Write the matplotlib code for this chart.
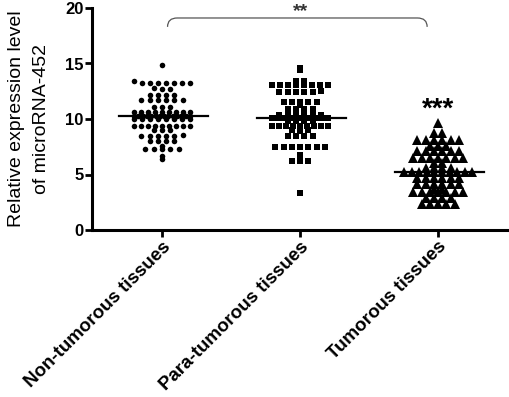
import numpy as np
import matplotlib
matplotlib.use("Agg")
import matplotlib.pyplot as plt
from matplotlib.path import Path
from matplotlib.patches import PathPatch

plt.rcParams['font.family'] = ['Liberation Sans', 'DejaVu Sans']

categories = ["Non-tumorous tissues", "Para-tumorous tissues", "Tumorous tissues"]
yticks = [0, 5, 10, 15, 20]

non_tumorous = [14.9,
    13.4, 13.2, 13.2, 13.2, 13.2, 13.2, 13.2, 13.2,
    12.8, 12.7, 12.7,
    12.2, 12.2, 12.2, 12.2,
    11.7, 11.7, 11.7, 11.7, 11.7, 11.7,
    11.1, 11.1, 11.1,
    10.6, 10.6, 10.6, 10.6, 10.6, 10.6, 10.6, 10.6, 10.6,
    10.3, 10.3, 10.3, 10.3, 10.3, 10.3, 10.3, 10.3, 10.3, 10.3, 10.3, 10.3, 10.3, 10.3,
    10.0, 10.0, 10.0, 10.0, 10.0, 10.0, 10.0, 10.0,
    9.4, 9.4, 9.4, 9.4, 9.4, 9.4, 9.4, 9.4, 9.4,
    9.0, 9.0, 9.0,
    8.5, 8.5, 8.5, 8.5, 8.5, 8.6,
    8.0, 8.0, 8.0, 8.0,
    7.6, 7.3, 7.3, 7.3, 7.3, 7.3,
    6.7, 6.4]

para_tumorous = [14.6, 14.4,
    13.4, 13.4,
    13.1, 13.1, 13.1, 13.1, 13.1, 13.1, 13.1, 13.1,
    12.4, 12.4, 12.4, 12.4, 12.4, 12.5,
    11.5, 11.5, 11.5, 11.5, 11.5, 11.3,
    10.9, 10.9, 10.9, 10.9,
    10.4, 10.4, 10.4, 10.4, 10.4, 10.4,
    10.1, 10.1, 10.1, 10.1, 10.1, 10.1, 10.1, 10.1, 10.1, 10.1, 10.1, 10.1, 10.1, 10.1,
    9.8, 9.8, 9.8, 9.8,
    9.4, 9.4, 9.4, 9.4, 9.4, 9.4, 9.4, 9.4, 9.4,
    9.0, 8.9, 9.0,
    8.5, 8.5, 8.5, 8.5,
    7.5, 7.5, 7.5, 7.5, 7.5, 7.5, 7.5,
    6.8, 6.2, 6.2, 6.2,
    3.3]

tumorous = [9.6,
    8.7, 8.7,
    8.1, 8.1, 8.1, 8.1, 8.1, 8.1,
    7.6, 7.6, 7.6,
    7.1, 7.1, 7.1, 7.1, 7.1, 7.1,
    6.5, 6.5, 6.5, 6.5, 6.5, 6.5, 6.5,
    6.0, 6.0,
    5.6, 5.6, 5.6, 5.6,
    5.2, 5.2, 5.2, 5.2, 5.2, 5.2, 5.2, 5.2, 5.2, 5.2,
    4.7, 4.7, 4.7, 4.7, 4.7, 4.7,
    4.1, 4.1, 4.1, 4.1, 4.1, 4.1,
    3.7, 3.7,
    3.4, 3.4, 3.4, 3.4, 3.4, 3.4, 3.4,
    2.9, 2.9, 2.9, 2.9,
    2.3, 2.3, 2.3, 2.3, 2.3]

means = [10.3, 10.1, 5.2]
groups = [non_tumorous, para_tumorous, tumorous]
markers = ['o', 's', '^']
msizes = [4.0, 4.6, 7.2]
spacing_px = [8.3, 8.3, 8.3]
binh_px = [3.0, 3.0, 3.0]
maxhalf_px = [28, 28, 34]

fig = plt.figure(figsize=(5.10, 3.97), dpi=100)
ax = fig.add_axes([92/510, 167/397, 418/510, 222/397])
ax.set_xlim(-0.507, 2.52)
ax.set_ylim(0, 20)
ax.set_yticks(yticks)
ax.set_yticklabels([str(t) for t in yticks], fontsize=12, fontweight='bold')
ax.set_xticks(range(len(categories)))
ax.set_xticklabels(categories, rotation=45, ha='right', rotation_mode='anchor',
                   fontsize=13.5, fontweight='bold')
for s in ['top', 'right']:
    ax.spines[s].set_visible(False)
for s in ['left', 'bottom']:
    ax.spines[s].set_linewidth(2.2)
ax.tick_params(axis='both', width=2.0, length=5, pad=1)
ax.set_ylabel("Relative expression level\nof microRNA-452", fontsize=14,
              linespacing=1.6, labelpad=11)

fig.canvas.draw()
trans = ax.transData
inv = trans.inverted()

def swarm(xc, vals, dx, binh, maxhalf):
    pts = trans.transform(np.column_stack([np.full(len(vals), xc), vals]))
    py = pts[:, 1]
    cx = pts[0, 0]
    bins = np.round(py / binh).astype(int)
    xs = np.zeros(len(vals))
    for b in np.unique(bins):
        idx = np.where(bins == b)[0]
        n = len(idx)
        step = dx
        if (n - 1) * step / 2 > maxhalf:
            step = 2 * maxhalf / (n - 1)
        offs = (np.arange(n) - (n - 1) / 2) * step
        for i, o in zip(idx, offs):
            xs[i] = inv.transform((cx + o, py[i]))[0]
    return xs

for gi, vals in enumerate(groups):
    vals = np.array(vals)
    xs = swarm(gi, vals, spacing_px[gi], binh_px[gi], maxhalf_px[gi])
    ax.plot(xs, vals, linestyle='none', marker=markers[gi], markersize=msizes[gi],
            color='black', markeredgewidth=0, zorder=3, clip_on=False)
    ax.plot([gi - 0.31, gi + 0.33], [means[gi], means[gi]], color='black', lw=1.6, zorder=4)

# bracket
x0, x1, yb, yt, r = 0.04, 1.92, 18.3, 19.1, 0.07
verts = [(x0, yb), (x0, yt), (x0 + r, yt), (x1 - r, yt), (x1, yt), (x1, yb)]
codes = [Path.MOVETO, Path.CURVE3, Path.CURVE3, Path.LINETO, Path.CURVE3, Path.CURVE3]
ax.add_patch(PathPatch(Path(verts, codes), fill=False, edgecolor='#555555', lw=0.9, clip_on=False))
ax.text(1.0, 19.3, "**", ha='center', va='baseline', fontsize=14, fontweight='bold',
        color='#333333', clip_on=False)
ax.text(2.0, 10.2, "***", ha='center', va='baseline', fontsize=20, fontweight='bold')

fig.savefig("out.png", dpi=100)
